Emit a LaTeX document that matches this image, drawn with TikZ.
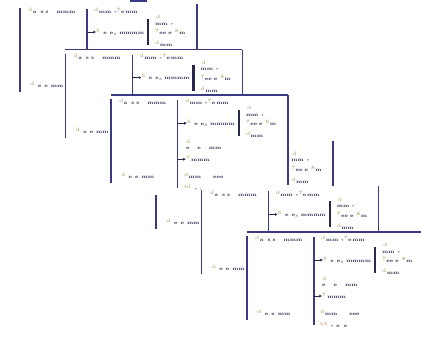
\documentclass[tikz,border=0pt]{standalone}
\usetikzlibrary{arrows.meta}
\definecolor{ink}{RGB}{58,58,130}
\definecolor{txt}{RGB}{40,40,75}
\definecolor{supc}{RGB}{185,175,125}
\newcommand\supx[1]{\textcolor{supc}{\textsuperscript{#1}}}
\tikzset{
  rule/.style={draw=ink, line width=1.5pt},
  stem/.style={draw=ink, line width=1.2pt},
  bracebar/.style={draw=txt, line width=2.2pt},
  lbl/.style={inner sep=0pt, anchor=west, font=\fontsize{5}{5.5}\selectfont\bfseries, text=txt},
  cover/.style={fill=white, draw=none},
  tip/.style={-{Latex[length=2.6pt,width=3pt]}, draw=txt, line width=0.7pt},
}
% #1 name, #2 x, #3 y, #4 top line (1/0), #5 mode: 0 full, 1 upper part, 2 corner only
\newcommand\drawcard[5]{%
\begin{scope}[shift={(#2,#3)}]
  \fill[cover] (-1,0) rectangle (179,100);
  \ifnum#4=1 \draw[rule] (0,0) -- (177,0);\fi
  \draw[rule] (0,4) -- (0,88);
  \draw[rule] (177,0) -- (177,90);
  \draw[stem] (67,5) -- (67,93);
  \ifnum#5<2
  \node[lbl] (#1tl) at (8,7) {\supx{d}a\hspace{4pt}s\hspace{2pt}s\hspace{8pt}mmm};
  \node[lbl] (#1tm) at (74,7) {\supx{d}mm\hspace{3pt}-\supx{7}e\,mm};
  \coordinate (#1s1) at (67,28);
  \node[lbl] (#1a1) at (76,28) {\supx{5}\hspace{3pt}e\hspace{3pt}e$_{s}$\hspace{2pt}mmmm};
  \draw[tip] (#1s1) -- (#1a1.west);
  \coordinate (#1bt) at (128,15);
  \coordinate (#1bb) at (128,41);
  \draw[bracebar] (#1bt) -- (#1bb);
  \fi
  \node[lbl] (#1r0) at (136,14) {\supx{d}};
  \node[lbl] (#1r1) at (135,20) {mm\hspace{3pt}-};
  \node[lbl] (#1r2) at (135,28) {\supx{7}ee\hspace{2pt}e\hspace{3pt}\supx{8}m};
  \node[lbl] (#1r3) at (135,40) {\supx{d}mm};
  \ifnum#5=0
  \node[lbl] (#1q1) at (75,48) {\supx{d}};
  \node[lbl] (#1q2) at (75,53) {e\hspace{8pt}e\hspace{8pt}mm};
  \coordinate (#1s2) at (67,64);
  \node[lbl] (#1a2) at (75,64) {\supx{7}\,mmm};
  \draw[tip] (#1s2) -- (#1a2.west);
  \node[lbl] (#1b2) at (73,81) {\supx{d}mm\hspace{12pt}eee};
  \node[lbl] (#1b3) at (73,93) {\supx{td}\hspace{3pt}-\hspace{3pt}e\hspace{4pt}e};
  \fi
  \node[lbl] (#1b1) at (10,81) {\supx{d}\hspace{3pt}e\hspace{3pt}e\hspace{3pt}mm};
\end{scope}}
\begin{document}
\begin{tikzpicture}[x=1pt,y=-1pt]
  \useasboundingbox (0,0) rectangle (421,337);
  \clip (0,0) rectangle (421,337);
  \fill[white] (0,0) rectangle (421,337);
  \node[fill=ink, inner sep=0pt, minimum width=17pt, minimum height=2pt, anchor=north west] (topbar) at (130,0) {};
  \drawcard{d}{156.2}{140.8}{0}{2}
  \drawcard{a}{20}{4}{0}{1}
  \drawcard{b}{65.4}{49.6}{1}{1}
  \drawcard{c}{110.8}{95.2}{1}{0}
  \drawcard{e}{201.6}{186.4}{0}{1}
  \drawcard{f}{247}{232}{1}{0}
\end{tikzpicture}
\end{document}
